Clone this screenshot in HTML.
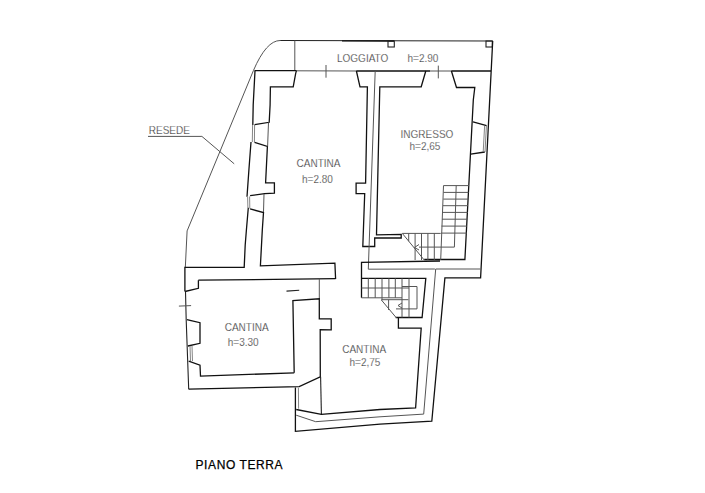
<!DOCTYPE html>
<html><head><meta charset="utf-8">
<style>
html,body{margin:0;padding:0;background:#fff;}
body{width:705px;height:493px;overflow:hidden;}
svg{display:block;}
text{font-family:"Liberation Sans",sans-serif;font-size:10px;fill:#1a1a1a;stroke:#fff;stroke-width:0.25px;}
.k{fill:none;stroke:#111;stroke-width:1.3;stroke-linejoin:miter;}
.m{fill:none;stroke:#222;stroke-width:1.1;}
.t{fill:none;stroke:#555;stroke-width:1;}
.s{fill:none;stroke:#777;stroke-width:0.9;}
</style></head>
<body>
<svg width="705" height="493" viewBox="0 0 705 493">
<rect width="705" height="493" fill="#fff"/>

<!-- boundary / resede -->
<path class="t" d="M280.2,40.5 Q266.3,40.5 253.4,70.6 L187.1,230.9 L185.3,267.8"/>
<path class="t" d="M148,136.4 L201.9,136.4 L234.2,163.8"/>

<!-- loggiato -->
<path class="m" d="M280.2,40.5 L492.5,41"/>
<path class="k" d="M342,40.8 L394,41"/>
<rect class="m" x="388" y="41" width="6.3" height="6"/>
<rect class="m" x="486" y="41" width="6.3" height="6"/>
<path class="k" d="M492.7,41 L480.6,277.9 L444.9,277.9 L431.8,421.2 L380,424.1 L295.4,431.4 L295.4,387.6"/>
<path class="t" d="M294.8,40.5 L294.8,70.7"/>
<path class="t" d="M326,65 L326,77.7"/>
<path class="t" d="M438.3,65.6 L438.3,78.4"/>

<!-- top wall -->
<path class="k" d="M254.5,70.7 L296.4,70.7 M356.4,71 L430,71 M451.4,71 L491,71"/>
<path class="t" d="M296,70.8 L357,71 M430,71 L452,71"/>

<!-- upper cantina outer left wall -->
<path class="k" d="M255,70.7 L253.2,105 L252.8,125.1 M251,142 L248.9,170 L247,196.8 M248.3,207.7 L246.4,230 L245.2,245 L244.2,267.3 L184.9,267.3 L184.9,291.5"/>
<path class="s" d="M252.6,124.8 L252.3,142 M254.6,124.8 L254.4,142.4 M247.6,197 L247.9,208 M249.6,196.5 L249.8,208.6"/>

<!-- upper cantina inner wall -->
<path class="k" d="M296.4,70.7 L295.6,73.8 L293.2,86.8 L270.4,86.8 L270.1,105 L269.2,122.3 L254.6,124.6 M254.6,142.4 L267.4,146.5 L265.6,182.8 L274.4,182.8 L274.4,193.1 L264.7,193.7 L250.1,195.6 M250.1,208.9 L263.5,212.6 L262.3,230 L260.4,265.8 L334.9,263.2 L335.6,279"/>
<path class="t" d="M268.5,122.5 L267.6,146.3 M264,194 L263.5,212"/>

<!-- cantina 3.30 -->
<path class="k" d="M198.4,280.2 L335.6,278.7"/>
<path class="k" d="M185,291.5 L198.4,288.3 L198.4,280.2"/>
<path class="m" d="M185.5,291.5 L186.2,320 L188.7,389.2"/>
<path class="t" d="M178.9,306.1 L191.1,305.6"/>
<path class="t" d="M319.3,278.7 L319.3,298.8"/>
<path class="k" d="M294.2,372.8 L292.9,300.6 L319.3,298.8 L319.3,318.9 L331.2,318.9 L331.2,329.8 L320.2,329.7 L320.3,376.8 L299.2,386.6 L188.7,389.2"/>
<path class="k" d="M294.2,372.8 L200.5,376.2 L200,365.2 L188.7,361.1"/>
<path class="k" d="M187,319.7 L191.1,320.7 L200,322.7 L200,343.3 L187.9,346"/>
<path class="s" d="M190,346 L190.5,361 M192,346 L192.5,361"/>
<path class="m" d="M286.5,291.1 L299.2,290.2"/>

<!-- cantina 2.75 -->
<path class="m" d="M320.6,376.8 L321.4,414.4"/>
<path class="k" d="M296.2,409.5 L321.4,414.4 L380,409.5 L415.6,408 L421.2,328.1 L398.4,328.1 L398.4,317.5"/>
<path class="t" d="M296.2,415.2 L315.7,421.7 L380,416.8 L423.7,414.1 L435.7,269 L480.3,269"/>
<path class="s" d="M298.4,387.8 L298.6,408.7"/>

<!-- corridor between cantina and ingresso -->
<path class="k" d="M356.4,71 L360,86.8 L367.4,86.8 L365.6,183.2 L356.1,183.2 L356.1,193.7 L364.7,193.7 L362.8,246.5 L374.7,246.5 L374.7,238 L401.2,238 L401.2,234.4 L376.5,234.8 L379.8,86.8 L421.2,86.8 L425.8,71"/>
<path class="t" d="M375.2,71 L368.3,269.2 L434.9,269"/>

<!-- ingresso -->
<path class="k" d="M451.4,71 L456.5,87.5 L474.8,87.5 L473.3,100 L464.9,259.5 L424.2,259.5"/>
<path class="k" d="M473,121.9 L486.6,125.6 M470.7,154.2 L484.8,152"/>
<path class="s" d="M484.6,126 L483.2,152 M486.4,126 L485,152"/>

<!-- ingresso stairs -->
<path class="t" d="M443.5,185.6 L469,185.6 M443.5,192.4 L468.6,192.4 M443.3,199.1 L468.3,199.1 M443,205.7 L468,205.7 M442.5,212.4 L467.7,212.4 M442,219.2 L467.3,219.2 M441.5,226.1 L467,226.1 M441,233.1 L466.8,233.1"/>
<path class="t" d="M443.5,185.6 L440.7,260 M456.2,185.6 L454.4,247.1"/>
<path class="t" d="M402.3,233.4 L440.7,233.4 M419,247.1 L454.4,247.1 M402.3,233.4 L424.2,260 M415.1,233.4 L415.1,260 M421.5,233.4 L421.5,260 M427.9,233.4 L427.9,260 M434.3,233.4 L434.3,260 M408.7,233.4 L408.7,241.2"/>
<path class="t" d="M419,244.5 L414.5,247.5 L419,250"/>

<!-- lower stairs box -->
<path class="k" d="M361.5,297.8 L361.5,262.4 L440,261"/>
<path class="k" d="M361.5,278.3 L425.8,278.3 L422.1,317.5 L395.7,317.5"/>
<path class="t" d="M361.5,288 L409,288 M361.5,297.8 L402,297.8 M368.3,278.3 L368.3,297.8 M375.2,278.3 L375.2,297.8 M382,278.3 L382,300.2 M388.9,278.3 L388.9,297.8 M395.3,278.3 L395.3,297.8 M402,278.3 L402,317.5 M409,278.3 L409,317.5 M381.4,300 L396.5,318 M402,286.5 L417,286.5 L417,308.9 L396,308.9 M381.4,299.7 L408.4,299.7 M388.6,299.7 L388.6,310"/>
<path class="t" d="M402,303 L398,305.5 L402,308"/>

<!-- labels -->
<text x="337" y="62">LOGGIATO</text>
<text x="407.5" y="61.7">h=2.90</text>
<text x="148.8" y="133.6">RESEDE</text>
<text x="296.6" y="166.8">CANTINA</text>
<text x="302" y="182.5">h=2.80</text>
<text x="400.6" y="137.9">INGRESSO</text>
<text x="409.5" y="150.4">h=2,65</text>
<text x="224.7" y="331.1">CANTINA</text>
<text x="227.8" y="345.9">h=3.30</text>
<text x="342.2" y="352.8">CANTINA</text>
<text x="349.5" y="366.2">h=2,75</text>
<text x="195.5" y="468.8" style="font-size:12px;fill:#000;stroke:#000;stroke-width:0.25px;letter-spacing:0.6px">PIANO TERRA</text>
</svg>
</body></html>
